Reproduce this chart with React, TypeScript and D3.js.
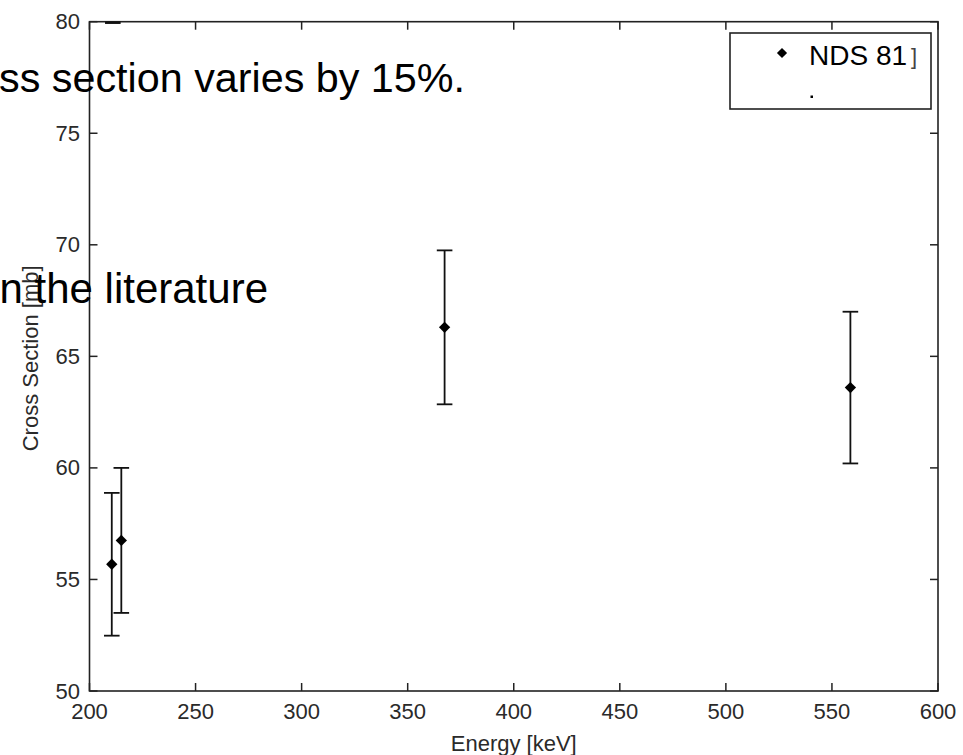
import React from "react";
import * as d3 from "d3";

// Measured cross sections (energy in keV, sigma in mb, symmetric uncertainty)
const energies = [210.5, 215, 367.4, 558.7];
const crossSections = [55.68, 56.75, 66.3, 63.6];
const uncertainties = [3.2, 3.25, 3.45, 3.4];

// A cap that sits on the upper frame edge (clipped off-scale bar)
const clippedCapEnergy = [211];
const clippedCapValue = [80];

const xTicks = [200, 250, 300, 350, 400, 450, 500, 550, 600];
const yTicks = [50, 55, 60, 65, 70, 75, 80];

const legendLabel = "NDS 81";
const overlayLines = ["ss section varies by 15%.", "n the literature"];

const W = 963;
const H = 755;
const M = { left: 89.5, right: 938, top: 21.7, bottom: 691 };

export default function App() {
  const x = d3.scaleLinear().domain([200, 600]).range([M.left, M.right]);
  const y = d3.scaleLinear().domain([50, 80]).range([M.bottom, M.top]);

  const axisColor = "#222";
  const tickLen = 8;
  const cap = 7.8;
  // square turned 45 degrees: MATLAB-style diamond marker
  const diamond = d3.symbol().type(d3.symbolSquare).size(64)() as string;
  const legendDiamond = d3.symbol().type(d3.symbolSquare).size(52)() as string;

  const tickFont = { fontFamily: "Liberation Sans, Arial, sans-serif", fontSize: 22, fill: "#2a2a2a" };

  return (
    <svg
      width={W}
      height={H}
      style={{ position: "absolute", left: 0, top: 0, background: "#fff" }}
    >
      <rect x={0} y={0} width={W} height={H} fill="#fff" />

      {/* frame */}
      <rect
        x={M.left}
        y={M.top}
        width={M.right - M.left}
        height={M.bottom - M.top}
        fill="none"
        stroke={axisColor}
        strokeWidth={1.6}
      />

      {/* x ticks (bottom and top, pointing inward) */}
      {xTicks.map((t) => (
        <g key={"xt" + t}>
          <line x1={x(t)} x2={x(t)} y1={M.bottom} y2={M.bottom - tickLen} stroke={axisColor} strokeWidth={1.5} />
          <line x1={x(t)} x2={x(t)} y1={M.top} y2={M.top + tickLen} stroke={axisColor} strokeWidth={1.5} />
          <text x={x(t)} y={711} textAnchor="middle" dominantBaseline="central" {...tickFont}>
            {t}
          </text>
        </g>
      ))}

      {/* y ticks (left and right, pointing inward) */}
      {yTicks.map((t) => (
        <g key={"yt" + t}>
          <line x1={M.left} x2={M.left + tickLen} y1={y(t)} y2={y(t)} stroke={axisColor} strokeWidth={1.5} />
          <line x1={M.right} x2={M.right - tickLen} y1={y(t)} y2={y(t)} stroke={axisColor} strokeWidth={1.5} />
          <text x={80} y={y(t)} textAnchor="end" dominantBaseline="central" {...tickFont}>
            {t}
          </text>
        </g>
      ))}

      {/* axis titles */}
      <text
        x={(M.left + M.right) / 2}
        y={743}
        textAnchor="middle"
        dominantBaseline="central"
        {...tickFont}
      >
        Energy [keV]
      </text>
      <text
        transform={`translate(38,${(M.top + M.bottom) / 2 + 2}) rotate(-90)`}
        textAnchor="middle"
        {...tickFont}
      >
        Cross Section [mb]
      </text>

      {/* error bars and markers */}
      {energies.map((e, i) => {
        const cx = x(e);
        const lo = y(crossSections[i] - uncertainties[i]);
        const hi = y(crossSections[i] + uncertainties[i]);
        return (
          <g key={"pt" + i} stroke="#111" strokeWidth={1.8}>
            <line x1={cx} x2={cx} y1={lo} y2={hi} />
            <line x1={cx - cap} x2={cx + cap} y1={lo} y2={lo} />
            <line x1={cx - cap} x2={cx + cap} y1={hi} y2={hi} />
            <path
              d={diamond}
              transform={`translate(${cx},${y(crossSections[i])}) rotate(45)`}
              fill="#000"
              stroke="none"
            />
          </g>
        );
      })}

      {clippedCapEnergy.map((e, i) => (
        <line
          key={"cc" + i}
          x1={x(e) - cap}
          x2={x(e) + cap}
          y1={y(clippedCapValue[i]) + 1}
          y2={y(clippedCapValue[i]) + 1}
          stroke="#111"
          strokeWidth={2.5}
        />
      ))}

      {/* legend */}
      <rect x={730} y={33} width={201} height={76} fill="#fff" stroke={axisColor} strokeWidth={1.6} />
      <path d={legendDiamond} transform="translate(782,53) rotate(45)" fill="#000" />
      <text x={809} y={65} fontFamily="Liberation Sans, Arial, sans-serif" fontSize={28} fill="#000">
        {legendLabel}
      </text>
      <text x={911} y={64} fontFamily="Liberation Sans, Arial, sans-serif" fontSize={22} fill="#444">
        ]
      </text>
      <rect x={810.5} y={95.5} width={2.5} height={2.5} fill="#000" />

      {/* overlaid slide text */}
      <text x={465} y={92} textAnchor="end" fontFamily="Liberation Sans, Arial, sans-serif" fontSize={41.3} fill="#000">
        {overlayLines[0]}
      </text>
      <text x={268} y={303} textAnchor="end" fontFamily="Liberation Sans, Arial, sans-serif" fontSize={42} fill="#000">
        {overlayLines[1]}
      </text>
    </svg>
  );
}
